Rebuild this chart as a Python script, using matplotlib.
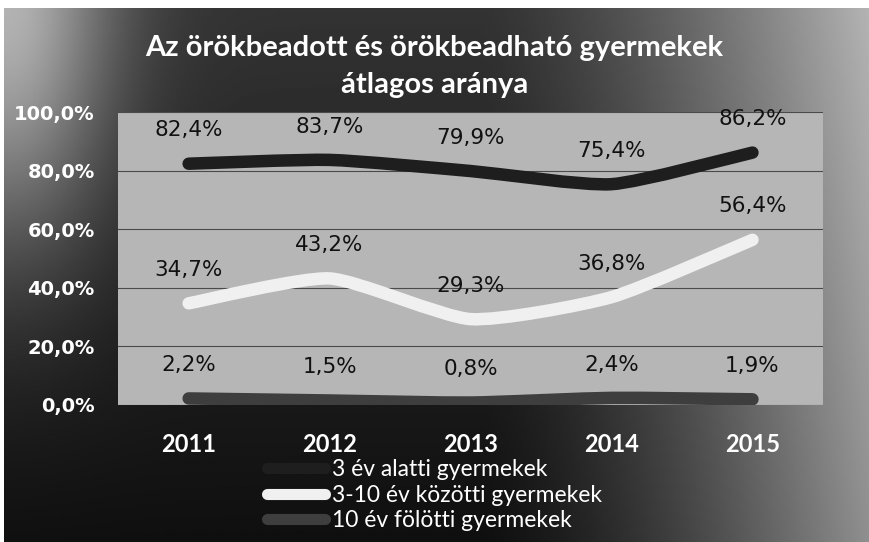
import numpy as np
import matplotlib.pyplot as plt
from matplotlib.path import Path
from matplotlib.patches import PathPatch
from matplotlib.lines import Line2D

# data
years = ['2011', '2012', '2013', '2014', '2015']
under3 = [82.4, 83.7, 79.9, 75.4, 86.2]
age3_10 = [34.7, 43.2, 29.3, 36.8, 56.4]
over10 = [2.2, 1.5, 0.8, 2.4, 1.9]
series_names = ['3 év alatti gyermekek', '3-10 év közötti gyermekek', '10 év fölötti gyermekek']
series_colors = ['#1e1e1e', '#f0f0f0', '#3e3e3e']

title = 'Az örökbeadott és örökbeadható gyermekek\nátlagos aránya'


def smooth_path(xs, ys, k=10):
    # mildly smoothed line, like excel's "smoothed line" option
    p = np.column_stack([xs, ys]).astype(float)
    pp = np.vstack([p[0], p, p[-1]])
    verts = [p[0]]
    codes = [Path.MOVETO]
    for i in range(len(p) - 1):
        c1 = pp[i + 1] + (pp[i + 2] - pp[i]) / k
        c2 = pp[i + 2] - (pp[i + 3] - pp[i + 1]) / k
        verts += [c1, c2, pp[i + 2]]
        codes += [Path.CURVE4] * 3
    return Path(verts, codes)


fig = plt.figure(figsize=(8.69, 5.42), dpi=100, facecolor='white')

# dark vignette background (scan leaves a white strip at top/left)
bg = fig.add_axes([4 / 869, 0, 1 - 4 / 869, 1 - 8 / 542], zorder=-10)
gx, gy = np.meshgrid(np.linspace(0, 1, 300), np.linspace(1, 0, 200))
v = 0.06 + 0.14 * gy
v += 0.5 * np.clip((gx - 0.55) / 0.45, 0, 1) ** 1.4
v += 0.5 * np.exp(-(gx ** 2 / 0.015 + (1 - gy) ** 2 / 0.2))
bg.imshow(np.clip(v, 0, 1), cmap='gray', vmin=0, vmax=1, aspect='auto', extent=[0, 1, 0, 1])
bg.axis('off')

ax = fig.add_axes([0.136, 0.253, 0.811, 0.540])
ax.set_facecolor('#b6b6b6')
x = np.arange(len(years))
ax.set_xlim(-0.5, len(years) - 0.5)
ax.set_ylim(0, 100)

for vals, col in zip([under3, age3_10, over10], series_colors):
    ax.add_patch(PathPatch(smooth_path(x, vals), fill=False, edgecolor=col, lw=9,
                           capstyle='round', joinstyle='round', zorder=3))
    for xi, val in zip(x, vals):
        ax.annotate(f'{val:.1f}%'.replace('.', ','), (xi, val), xytext=(0, 24),
                    textcoords='offset points', ha='center', va='center',
                    fontsize=15.5, color='#111111', family='DejaVu Sans', zorder=4)

ax.set_yticks(range(0, 101, 20))
ax.set_yticklabels([f'{t:.1f}%'.replace('.', ',') for t in range(0, 101, 20)],
                   fontsize=14, fontweight='bold', color='white', family='DejaVu Sans')
ax.set_xticks(x)
ax.set_xticklabels(years, fontsize=17, fontweight='bold', color='white', family='Lato')
ax.tick_params(length=0, axis='y', pad=17)
ax.tick_params(length=0, axis='x', pad=20)
ax.grid(axis='y', color='#4a4a4a', lw=0.8)
ax.set_axisbelow(True)
for s in ax.spines.values():
    s.set_visible(False)

fig.text(0.5, 0.877, title, ha='center', va='center', fontsize=21, fontweight='bold',
         color='white', family='Lato', linespacing=1.5)

handles = [Line2D([], [], color=c, lw=8, solid_capstyle='round') for c in series_colors]
fig.legend(handles, series_names, loc='upper center', bbox_to_anchor=(0.5, 0.182),
           frameon=False, ncol=1, handlelength=2.5, handletextpad=0.3, labelspacing=0.18,
           borderpad=0.2, prop={'family': 'Lato', 'size': 16.5}, labelcolor='white')

fig.savefig('out.png', dpi=100)
